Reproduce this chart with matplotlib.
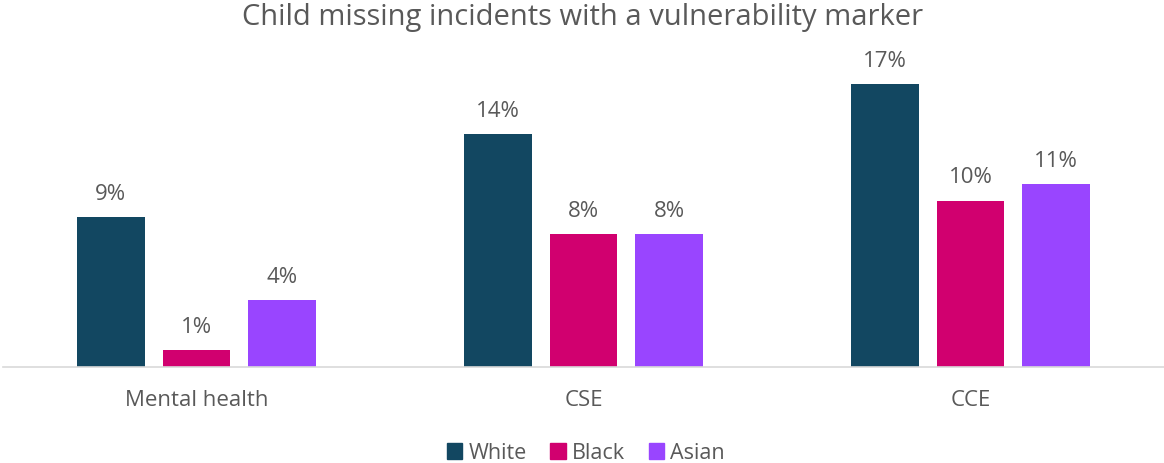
import numpy as np
import matplotlib.pyplot as plt
from matplotlib.patches import Patch

categories = ['Mental health', 'CSE', 'CCE']
series = ['White', 'Black', 'Asian']
white = [9, 14, 17]
black = [1, 8, 10]
asian = [4, 8, 11]
colors = ['#124761', '#D1006F', '#9945FF']

plt.rcParams['font.family'] = ['Open Sans', 'DejaVu Sans']
text_color = '#595959'

fig = plt.figure(figsize=(11.64, 4.64), dpi=100)
ax = fig.add_axes([3 / 1164, 96 / 464, 1 - 3 / 1164, 300 / 464])

x = np.arange(len(categories))
width = 0.175
step = 0.2216
for i, (name, vals) in enumerate(zip(series, [white, black, asian])):
    pos = x + (i - 1) * step
    bars = ax.bar(pos, vals, width, color=colors[i], label=name)
    for b, v in zip(bars, vals):
        ax.text(b.get_x() + b.get_width() / 2, v + 1.42, f'{v}%',
                ha='center', va='center', fontsize=16, color=text_color,
                clip_on=False)

ax.set_xlim(-0.5, 2.5)
ax.set_ylim(0, 300 / 16.65)
ax.set_yticks([])
ax.set_xticks(x)
ax.set_xticklabels(categories, fontsize=16, color=text_color)
ax.tick_params(axis='x', length=0, pad=16)
for s in ['top', 'right', 'left']:
    ax.spines[s].set_visible(False)
ax.spines['bottom'].set_color('#D9D9D9')
ax.spines['bottom'].set_linewidth(1.2)

fig.text(583 / 1164, 1 - 18 / 464, 'Child missing incidents with a vulnerability marker',
         ha='center', va='center', fontsize=21, color=text_color)

handles = [Patch(color=c) for c in colors]
fig.legend(handles, series, loc='center', bbox_to_anchor=(586 / 1164, 1 - 454 / 464),
           ncol=3, frameon=False, fontsize=15.5, labelcolor=text_color,
           handlelength=0.7, handleheight=0.7, handletextpad=0.3, columnspacing=1.1)

fig.savefig('out.png', dpi=100)
